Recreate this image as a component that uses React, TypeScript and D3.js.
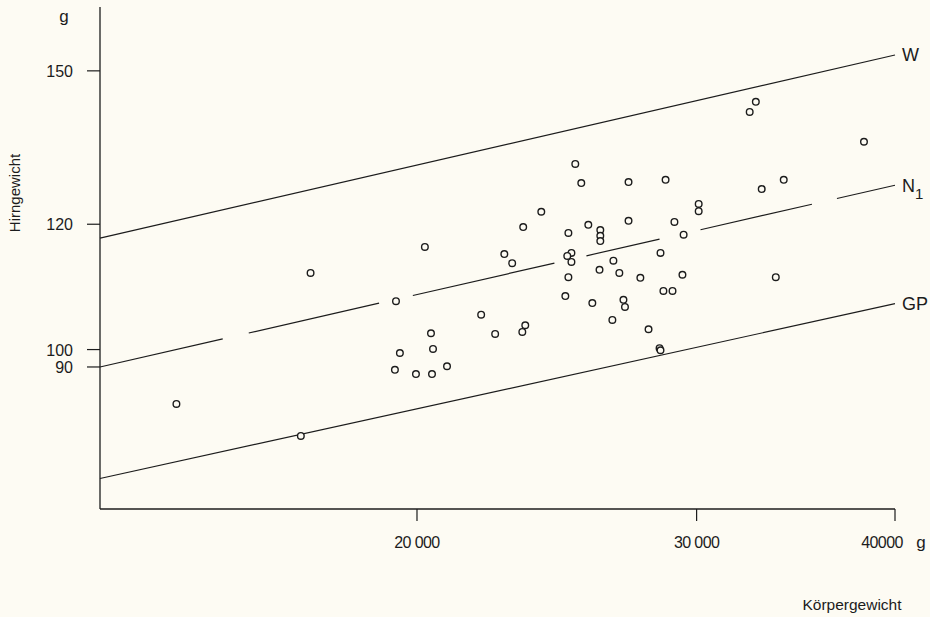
import * as React from "react";
import { useRef, useEffect } from "react";
import * as d3 from "d3";

// body weight (g) and brain weight (g) of the individual animals
const bodyWeight = [
  14110, 17140, 16900, 20230, 19400, 21950, 22400, 20410, 20470, 19510,
  19370, 19970, 20440, 20890, 25160, 25380, 27180, 28680, 30090, 30090,
  23950, 23330, 24910, 25640, 26090, 26090, 26090, 27180, 29050, 29440,
  22700, 22960, 25020, 24870, 25020, 24910, 24800, 26060, 26590, 26820,
  27650, 28470, 29390, 28590, 28970, 25790, 26980, 27040, 26550, 27980,
  28430, 28470, 23400, 23300, 32690, 32400, 38240, 34040, 32970, 33650,
];
const brainWeight = [
  92.4, 111.8, 88.2, 116.1, 107.3, 105.2, 102.3, 102.4, 100.1, 99.5,
  97.1, 96.5, 96.5, 97.6, 131.0, 127.4, 127.6, 128.0, 123.6, 122.3,
  122.2, 119.5, 118.5, 119.9, 119.0, 118.0, 117.1, 120.6, 120.4, 118.2,
  114.9, 113.4, 115.1, 114.6, 113.6, 111.1, 108.1, 112.3, 113.8, 111.8,
  111.0, 115.1, 111.5, 108.9, 108.9, 107.0, 107.5, 106.4, 104.4, 103.0,
  100.2, 99.9, 103.6, 102.6, 143.4, 141.3, 135.3, 128.0, 126.3, 111.1,
];

// allometric lines: brain weight at the left and right end of the x range
const lineNames = ["W", "N", "GP"];
const lineStart = [117.6, 97.5, 82.9];
const lineEnd = [153.5, 127.0, 106.9];
// N1 is drawn broken: visible pieces, in g body weight
const n1Pieces = [
  [12630, 15090], [15670, 18930], [19880, 24410],
  [25570, 28430], [30170, 35460], [36770, 40000],
];

const xTicks = [20000, 30000, 40000];
const xTickLabels = ["20 000", "30 000", "40000"];
const yTicks = [150, 120, 100, 97.5];
const yTickLabels = ["150", "120", "100", "90"];

const xMin = 12630;
const xMax = 40000;
const yMin = 79.3;
const yMax = 164.6;

const BG = "#fdfbf3";
const INK = "#1c1c1c";
const SANS = "'Liberation Sans', Arial, sans-serif";

export default function App() {
  const _ref = useRef<HTMLDivElement>(null);
  useEffect(() => {
    const el = _ref.current;
    if (!el) return;
    const W = 930;
    const H = 617;
    const left = 100;
    const right = 895;
    const top = 7;
    const bottom = 509;

    el.innerHTML = "";
    const svg = d3
      .select(el)
      .append("svg")
      .attr("width", W)
      .attr("height", H)
      .style("position", "absolute")
      .style("left", "0px")
      .style("top", "0px");

    svg.append("rect").attr("width", W).attr("height", H).attr("fill", BG);

    const x = d3.scaleLog().domain([xMin, xMax]).range([left, right]);
    const y = d3.scaleLog().domain([yMin, yMax]).range([bottom, top]);

    // value of a log-log straight line at body weight v
    const lineAt = (i: number, v: number) => {
      const t = Math.log(v / xMin) / Math.log(xMax / xMin);
      return Math.exp(
        Math.log(lineStart[i]) + t * (Math.log(lineEnd[i]) - Math.log(lineStart[i]))
      );
    };

    // axes
    svg
      .append("line")
      .attr("x1", left).attr("x2", left)
      .attr("y1", top).attr("y2", bottom)
      .attr("stroke", INK).attr("stroke-width", 1.3);
    svg
      .append("line")
      .attr("x1", left).attr("x2", right)
      .attr("y1", bottom).attr("y2", bottom)
      .attr("stroke", INK).attr("stroke-width", 1.3);

    // y ticks
    yTicks.forEach((v, i) => {
      svg
        .append("line")
        .attr("x1", left - 13).attr("x2", left)
        .attr("y1", y(v)).attr("y2", y(v))
        .attr("stroke", INK).attr("stroke-width", 1.2);
      svg
        .append("text")
        .attr("x", left - 27)
        .attr("y", y(v) + 6)
        .attr("text-anchor", "end")
        .style("font-family", SANS)
        .style("font-size", "16px")
        .attr("fill", INK)
        .text(yTickLabels[i]);
    });
    svg
      .append("text")
      .attr("x", 64).attr("y", 22)
      .attr("text-anchor", "middle")
      .style("font-family", SANS)
      .style("font-size", "17px")
      .attr("fill", INK)
      .text("g");
    svg
      .append("text")
      .attr("transform", `translate(20,193) rotate(-90)`)
      .attr("text-anchor", "middle")
      .style("font-family", SANS)
      .style("font-size", "15px")
      .attr("fill", INK)
      .text("Hirngewicht");

    // x ticks
    xTicks.forEach((v, i) => {
      svg
        .append("line")
        .attr("x1", x(v)).attr("x2", x(v))
        .attr("y1", bottom).attr("y2", bottom + 12)
        .attr("stroke", INK).attr("stroke-width", 1.2);
      const last = i === xTicks.length - 1;
      svg
        .append("text")
        .attr("x", last ? x(v) - 13 : x(v))
        .attr("y", bottom + 39)
        .attr("text-anchor", "middle")
        .style("font-family", SANS)
        .style("font-size", "16px")
        .style("letter-spacing", "-0.6px")
        .attr("fill", INK)
        .text(xTickLabels[i]);
    });
    svg
      .append("text")
      .attr("x", x(xMax) + 26)
      .attr("y", bottom + 39)
      .attr("text-anchor", "middle")
      .style("font-family", SANS)
      .style("font-size", "17px")
      .attr("fill", INK)
      .text("g");
    svg
      .append("text")
      .attr("x", 852).attr("y", 610)
      .attr("text-anchor", "middle")
      .style("font-family", SANS)
      .style("font-size", "15.5px")
      .attr("fill", INK)
      .text("Körpergewicht");

    // regression lines (N1 drawn in pieces)
    lineNames.forEach((name, i) => {
      const pieces = name === "N" ? n1Pieces : [[xMin, xMax]];
      pieces.forEach(([a, b]) => {
        svg
          .append("line")
          .attr("x1", x(a)).attr("y1", y(lineAt(i, a)))
          .attr("x2", x(b)).attr("y2", y(lineAt(i, b)))
          .attr("stroke", INK)
          .attr("stroke-width", 1.2);
      });
      const label = svg
        .append("text")
        .attr("x", x(xMax) + 7)
        .attr("y", y(lineEnd[i]) + 6.5)
        .style("font-family", SANS)
        .style("font-size", "18px")
        .attr("fill", INK)
        .text(name);
      if (name === "N") {
        label
          .append("tspan")
          .attr("dy", 7)
          .style("font-size", "15px")
          .text("1");
      }
    });

    // data points
    svg
      .append("g")
      .selectAll("circle")
      .data(bodyWeight)
      .join("circle")
      .attr("cx", (d) => x(d))
      .attr("cy", (_d, i) => y(brainWeight[i]))
      .attr("r", 3.3)
      .attr("fill", BG)
      .attr("stroke", INK)
      .attr("stroke-width", 1.4);
  }, []);

  return <div ref={_ref}></div>;
}
